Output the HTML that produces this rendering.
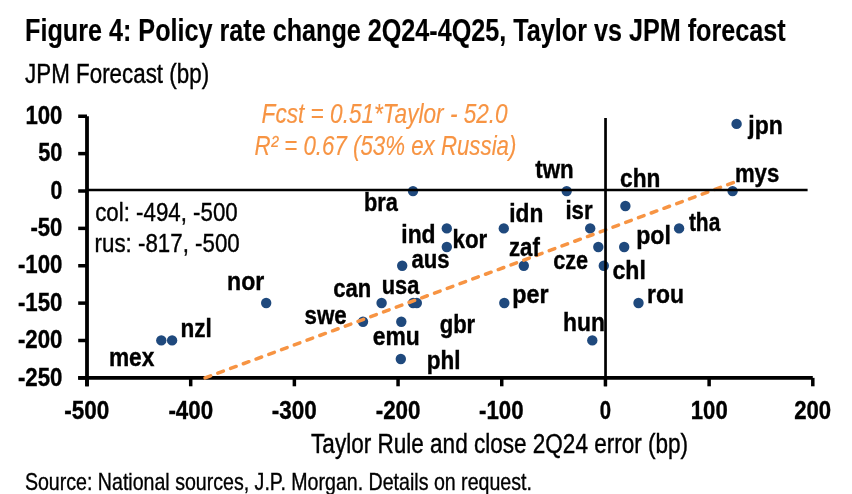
<!DOCTYPE html>
<html><head><meta charset="utf-8"><title>Figure 4</title>
<style>
html,body{margin:0;padding:0;background:#fff;}
svg{display:block;font-family:"Liberation Sans",sans-serif;}
</style></head><body>
<svg width="852" height="494" viewBox="0 0 852 494">
<rect width="852" height="494" fill="#fff"/>
<line x1="87" y1="116.2" x2="87" y2="386.3" stroke="#000" stroke-width="3.8"/>
<line x1="78.2" y1="377.85" x2="812.8" y2="377.85" stroke="#000" stroke-width="3.7"/>
<line x1="78.2" y1="377.88" x2="87" y2="377.88" stroke="#000" stroke-width="3.5"/>
<line x1="78.2" y1="340.50" x2="87" y2="340.50" stroke="#000" stroke-width="3.5"/>
<line x1="78.2" y1="303.12" x2="87" y2="303.12" stroke="#000" stroke-width="3.5"/>
<line x1="78.2" y1="265.75" x2="87" y2="265.75" stroke="#000" stroke-width="3.5"/>
<line x1="78.2" y1="228.38" x2="87" y2="228.38" stroke="#000" stroke-width="3.5"/>
<line x1="78.2" y1="191.00" x2="87" y2="191.00" stroke="#000" stroke-width="3.5"/>
<line x1="78.2" y1="153.62" x2="87" y2="153.62" stroke="#000" stroke-width="3.5"/>
<line x1="78.2" y1="116.25" x2="87" y2="116.25" stroke="#000" stroke-width="3.5"/>
<line x1="87.00" y1="377.85" x2="87.00" y2="386.3" stroke="#000" stroke-width="3.5"/>
<line x1="190.69" y1="377.85" x2="190.69" y2="386.3" stroke="#000" stroke-width="3.5"/>
<line x1="294.37" y1="377.85" x2="294.37" y2="386.3" stroke="#000" stroke-width="3.5"/>
<line x1="398.06" y1="377.85" x2="398.06" y2="386.3" stroke="#000" stroke-width="3.5"/>
<line x1="501.74" y1="377.85" x2="501.74" y2="386.3" stroke="#000" stroke-width="3.5"/>
<line x1="605.43" y1="377.85" x2="605.43" y2="386.3" stroke="#000" stroke-width="3.5"/>
<line x1="709.12" y1="377.85" x2="709.12" y2="386.3" stroke="#000" stroke-width="3.5"/>
<line x1="812.80" y1="377.85" x2="812.80" y2="386.3" stroke="#000" stroke-width="3.5"/>
<circle cx="736.6" cy="123.9" r="5.2" fill="#1F497D"/>
<circle cx="732.6" cy="191.1" r="5.2" fill="#1F497D"/>
<circle cx="625.4" cy="206.0" r="5.2" fill="#1F497D"/>
<circle cx="679.1" cy="228.4" r="5.2" fill="#1F497D"/>
<circle cx="624.2" cy="247.0" r="5.2" fill="#1F497D"/>
<circle cx="638.5" cy="303.0" r="5.2" fill="#1F497D"/>
<circle cx="603.8" cy="265.7" r="5.2" fill="#1F497D"/>
<circle cx="598.3" cy="247.0" r="5.2" fill="#1F497D"/>
<circle cx="590.2" cy="228.4" r="5.2" fill="#1F497D"/>
<circle cx="592.3" cy="340.4" r="5.2" fill="#1F497D"/>
<circle cx="566.7" cy="191.1" r="5.2" fill="#1F497D"/>
<circle cx="503.8" cy="228.4" r="5.2" fill="#1F497D"/>
<circle cx="523.8" cy="265.7" r="5.2" fill="#1F497D"/>
<circle cx="504.3" cy="303.0" r="5.2" fill="#1F497D"/>
<circle cx="413.0" cy="191.1" r="5.2" fill="#1F497D"/>
<circle cx="446.8" cy="228.4" r="5.2" fill="#1F497D"/>
<circle cx="446.8" cy="247.0" r="5.2" fill="#1F497D"/>
<circle cx="402.2" cy="265.7" r="5.2" fill="#1F497D"/>
<circle cx="413.1" cy="303.0" r="5.2" fill="#1F497D"/>
<circle cx="416.8" cy="303.0" r="5.2" fill="#1F497D"/>
<circle cx="381.6" cy="303.0" r="5.2" fill="#1F497D"/>
<circle cx="363.0" cy="321.7" r="5.2" fill="#1F497D"/>
<circle cx="401.3" cy="321.7" r="5.2" fill="#1F497D"/>
<circle cx="400.8" cy="359.0" r="5.2" fill="#1F497D"/>
<circle cx="266.2" cy="303.0" r="5.2" fill="#1F497D"/>
<circle cx="172.1" cy="340.4" r="5.2" fill="#1F497D"/>
<circle cx="161.3" cy="340.4" r="5.2" fill="#1F497D"/>
<line x1="205.1" y1="377.9" x2="735.1" y2="182.0" stroke="#F79443" stroke-width="3.5" stroke-linecap="round" stroke-dasharray="5.9 7.69"/>
<line x1="87" y1="190" x2="807.6" y2="190" stroke="#000" stroke-width="2.3"/>
<line x1="605.53" y1="117.9" x2="605.53" y2="386.3" stroke="#000" stroke-width="2.7"/>
<text x="25.1" y="40.7" font-size="30.8" font-weight="bold" font-style="normal" fill="#000" stroke="#000" stroke-width="0.15" textLength="760.5" lengthAdjust="spacingAndGlyphs">Figure 4: Policy rate change 2Q24-4Q25, Taylor vs JPM forecast</text>
<text x="25.1" y="83.0" font-size="27.0" font-weight="normal" font-style="normal" fill="#000" stroke="#000" stroke-width="0.40" textLength="184.0" lengthAdjust="spacingAndGlyphs">JPM Forecast (bp)</text>
<text x="261.6" y="122.6" font-size="27.6" font-weight="normal" font-style="italic" fill="#F79443" stroke="#F79443" stroke-width="0.15" textLength="246.1" lengthAdjust="spacingAndGlyphs">Fcst = 0.51*Taylor - 52.0</text>
<text x="254.6" y="154.9" font-size="27.6" font-weight="normal" font-style="italic" fill="#F79443" stroke="#F79443" stroke-width="0.15" textLength="261.8" lengthAdjust="spacingAndGlyphs">R² = 0.67 (53% ex Russia)</text>
<text x="95.2" y="221.1" font-size="26.5" font-weight="normal" font-style="normal" fill="#000" stroke="#000" stroke-width="0.40" textLength="142.5" lengthAdjust="spacingAndGlyphs">col: -494, -500</text>
<text x="94.6" y="252.3" font-size="26.5" font-weight="normal" font-style="normal" fill="#000" stroke="#000" stroke-width="0.40" textLength="145.1" lengthAdjust="spacingAndGlyphs">rus: -817, -500</text>
<text x="311.1" y="453.3" font-size="27.0" font-weight="normal" font-style="normal" fill="#000" stroke="#000" stroke-width="0.40" textLength="377.0" lengthAdjust="spacingAndGlyphs">Taylor Rule and close 2Q24 error (bp)</text>
<text x="24.9" y="489.5" font-size="23.2" font-weight="normal" font-style="normal" fill="#000" stroke="#000" stroke-width="0.35" textLength="507.0" lengthAdjust="spacingAndGlyphs">Source: National sources, J.P. Morgan. Details on request.</text>
<text x="25.4" y="123.8" font-size="26.5" font-weight="bold" font-style="normal" fill="#000" stroke="#000" stroke-width="0.40" textLength="37.0" lengthAdjust="spacingAndGlyphs">100</text>
<text x="38.2" y="161.2" font-size="26.5" font-weight="bold" font-style="normal" fill="#000" stroke="#000" stroke-width="0.40" textLength="24.2" lengthAdjust="spacingAndGlyphs">50</text>
<text x="50.6" y="198.6" font-size="26.5" font-weight="bold" font-style="normal" fill="#000" stroke="#000" stroke-width="0.40" textLength="11.8" lengthAdjust="spacingAndGlyphs">0</text>
<text x="30.5" y="236.0" font-size="26.5" font-weight="bold" font-style="normal" fill="#000" stroke="#000" stroke-width="0.40" textLength="31.9" lengthAdjust="spacingAndGlyphs">-50</text>
<text x="17.9" y="273.4" font-size="26.5" font-weight="bold" font-style="normal" fill="#000" stroke="#000" stroke-width="0.40" textLength="44.5" lengthAdjust="spacingAndGlyphs">-100</text>
<text x="17.9" y="310.7" font-size="26.5" font-weight="bold" font-style="normal" fill="#000" stroke="#000" stroke-width="0.40" textLength="44.5" lengthAdjust="spacingAndGlyphs">-150</text>
<text x="17.9" y="348.1" font-size="26.5" font-weight="bold" font-style="normal" fill="#000" stroke="#000" stroke-width="0.40" textLength="44.5" lengthAdjust="spacingAndGlyphs">-200</text>
<text x="17.9" y="385.5" font-size="26.5" font-weight="bold" font-style="normal" fill="#000" stroke="#000" stroke-width="0.40" textLength="44.5" lengthAdjust="spacingAndGlyphs">-250</text>
<text x="64.3" y="419.0" font-size="26.5" font-weight="bold" font-style="normal" fill="#000" stroke="#000" stroke-width="0.40" textLength="45.0" lengthAdjust="spacingAndGlyphs">-500</text>
<text x="168.4" y="419.0" font-size="26.5" font-weight="bold" font-style="normal" fill="#000" stroke="#000" stroke-width="0.40" textLength="44.7" lengthAdjust="spacingAndGlyphs">-400</text>
<text x="271.8" y="419.0" font-size="26.5" font-weight="bold" font-style="normal" fill="#000" stroke="#000" stroke-width="0.40" textLength="45.0" lengthAdjust="spacingAndGlyphs">-300</text>
<text x="375.7" y="419.0" font-size="26.5" font-weight="bold" font-style="normal" fill="#000" stroke="#000" stroke-width="0.40" textLength="44.8" lengthAdjust="spacingAndGlyphs">-200</text>
<text x="479.0" y="419.0" font-size="26.5" font-weight="bold" font-style="normal" fill="#000" stroke="#000" stroke-width="0.40" textLength="44.5" lengthAdjust="spacingAndGlyphs">-100</text>
<text x="599.7" y="419.0" font-size="26.5" font-weight="bold" font-style="normal" fill="#000" stroke="#000" stroke-width="0.40" textLength="11.3" lengthAdjust="spacingAndGlyphs">0</text>
<text x="690.8" y="419.0" font-size="26.5" font-weight="bold" font-style="normal" fill="#000" stroke="#000" stroke-width="0.40" textLength="36.9" lengthAdjust="spacingAndGlyphs">100</text>
<text x="794.2" y="419.0" font-size="26.5" font-weight="bold" font-style="normal" fill="#000" stroke="#000" stroke-width="0.40" textLength="36.9" lengthAdjust="spacingAndGlyphs">200</text>
<text x="748.3" y="134.3" font-size="26.5" font-weight="bold" font-style="normal" fill="#000" stroke="#000" stroke-width="0.40" textLength="34.5" lengthAdjust="spacingAndGlyphs">jpn</text>
<text x="734.9" y="182.0" font-size="26.5" font-weight="bold" font-style="normal" fill="#000" stroke="#000" stroke-width="0.40" textLength="44.4" lengthAdjust="spacingAndGlyphs">mys</text>
<text x="620.1" y="186.8" font-size="26.5" font-weight="bold" font-style="normal" fill="#000" stroke="#000" stroke-width="0.40" textLength="40.3" lengthAdjust="spacingAndGlyphs">chn</text>
<text x="688.9" y="231.4" font-size="26.5" font-weight="bold" font-style="normal" fill="#000" stroke="#000" stroke-width="0.40" textLength="31.4" lengthAdjust="spacingAndGlyphs">tha</text>
<text x="636.2" y="243.9" font-size="26.5" font-weight="bold" font-style="normal" fill="#000" stroke="#000" stroke-width="0.40" textLength="34.8" lengthAdjust="spacingAndGlyphs">pol</text>
<text x="647.0" y="302.8" font-size="26.5" font-weight="bold" font-style="normal" fill="#000" stroke="#000" stroke-width="0.40" textLength="36.9" lengthAdjust="spacingAndGlyphs">rou</text>
<text x="612.5" y="278.5" font-size="26.5" font-weight="bold" font-style="normal" fill="#000" stroke="#000" stroke-width="0.40" textLength="33.4" lengthAdjust="spacingAndGlyphs">chl</text>
<text x="553.2" y="269.4" font-size="26.5" font-weight="bold" font-style="normal" fill="#000" stroke="#000" stroke-width="0.40" textLength="34.9" lengthAdjust="spacingAndGlyphs">cze</text>
<text x="565.4" y="218.9" font-size="26.5" font-weight="bold" font-style="normal" fill="#000" stroke="#000" stroke-width="0.40" textLength="27.2" lengthAdjust="spacingAndGlyphs">isr</text>
<text x="563.1" y="331.1" font-size="26.5" font-weight="bold" font-style="normal" fill="#000" stroke="#000" stroke-width="0.40" textLength="41.9" lengthAdjust="spacingAndGlyphs">hun</text>
<text x="535.3" y="178.0" font-size="26.5" font-weight="bold" font-style="normal" fill="#000" stroke="#000" stroke-width="0.40" textLength="38.4" lengthAdjust="spacingAndGlyphs">twn</text>
<text x="509.2" y="222.1" font-size="26.5" font-weight="bold" font-style="normal" fill="#000" stroke="#000" stroke-width="0.40" textLength="34.1" lengthAdjust="spacingAndGlyphs">idn</text>
<text x="509.0" y="255.5" font-size="26.5" font-weight="bold" font-style="normal" fill="#000" stroke="#000" stroke-width="0.40" textLength="30.9" lengthAdjust="spacingAndGlyphs">zaf</text>
<text x="512.3" y="302.7" font-size="26.5" font-weight="bold" font-style="normal" fill="#000" stroke="#000" stroke-width="0.40" textLength="36.3" lengthAdjust="spacingAndGlyphs">per</text>
<text x="363.9" y="210.6" font-size="26.5" font-weight="bold" font-style="normal" fill="#000" stroke="#000" stroke-width="0.40" textLength="33.9" lengthAdjust="spacingAndGlyphs">bra</text>
<text x="401.3" y="242.5" font-size="26.5" font-weight="bold" font-style="normal" fill="#000" stroke="#000" stroke-width="0.40" textLength="34.3" lengthAdjust="spacingAndGlyphs">ind</text>
<text x="452.5" y="247.8" font-size="26.5" font-weight="bold" font-style="normal" fill="#000" stroke="#000" stroke-width="0.40" textLength="34.8" lengthAdjust="spacingAndGlyphs">kor</text>
<text x="411.4" y="268.1" font-size="26.5" font-weight="bold" font-style="normal" fill="#000" stroke="#000" stroke-width="0.40" textLength="38.2" lengthAdjust="spacingAndGlyphs">aus</text>
<text x="381.7" y="293.5" font-size="26.5" font-weight="bold" font-style="normal" fill="#000" stroke="#000" stroke-width="0.40" textLength="37.6" lengthAdjust="spacingAndGlyphs">usa</text>
<text x="333.3" y="296.5" font-size="26.5" font-weight="bold" font-style="normal" fill="#000" stroke="#000" stroke-width="0.40" textLength="38.0" lengthAdjust="spacingAndGlyphs">can</text>
<text x="304.5" y="324.1" font-size="26.5" font-weight="bold" font-style="normal" fill="#000" stroke="#000" stroke-width="0.40" textLength="42.2" lengthAdjust="spacingAndGlyphs">swe</text>
<text x="372.7" y="344.9" font-size="26.5" font-weight="bold" font-style="normal" fill="#000" stroke="#000" stroke-width="0.40" textLength="47.0" lengthAdjust="spacingAndGlyphs">emu</text>
<text x="426.8" y="368.6" font-size="26.5" font-weight="bold" font-style="normal" fill="#000" stroke="#000" stroke-width="0.40" textLength="33.8" lengthAdjust="spacingAndGlyphs">phl</text>
<text x="439.7" y="333.0" font-size="26.5" font-weight="bold" font-style="normal" fill="#000" stroke="#000" stroke-width="0.40" textLength="35.5" lengthAdjust="spacingAndGlyphs">gbr</text>
<text x="227.1" y="289.7" font-size="26.5" font-weight="bold" font-style="normal" fill="#000" stroke="#000" stroke-width="0.40" textLength="37.2" lengthAdjust="spacingAndGlyphs">nor</text>
<text x="180.4" y="337.1" font-size="26.5" font-weight="bold" font-style="normal" fill="#000" stroke="#000" stroke-width="0.40" textLength="31.4" lengthAdjust="spacingAndGlyphs">nzl</text>
<text x="108.9" y="366.2" font-size="26.5" font-weight="bold" font-style="normal" fill="#000" stroke="#000" stroke-width="0.40" textLength="45.5" lengthAdjust="spacingAndGlyphs">mex</text>
</svg></body></html>
